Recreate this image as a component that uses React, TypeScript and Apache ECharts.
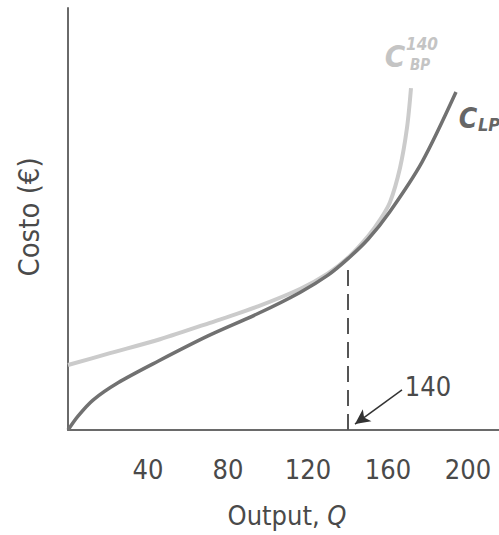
import React, { useEffect, useRef } from "react";
import * as echarts from "echarts";

const xTicks = [40, 80, 120, 160, 200];
const longRun: [number, number][] = [
  [0, 0], [5, 3.3], [12.5, 7.1], [25, 11.2], [45, 16.3], [70, 22.3], [95, 27.6],
  [116, 32.6], [130, 36.7], [140, 40.6], [150, 45.2], [161, 51.8], [177, 63.5], [194, 80.1],
];
const shortRun140: [number, number][] = [
  [0, 15.4], [21, 18.2], [46, 21.5], [71, 25.4], [95, 29.3], [116, 33.4],
  [130, 37.1], [140, 40.8], [150, 45.9], [156, 49.8], [161, 54.0], [166, 62.1], [169.5, 71.6], [171.5, 81],
];
const markedOutput = 140;
const markedTop = 38;

const FONT = "'Liberation Sans Narrow', 'DejaVu Sans Condensed', 'Roboto', sans-serif";

export default function App() {
  const ref = useRef<HTMLDivElement>(null);
  useEffect(() => {
    if (!ref.current) return;
    const chart = echarts.init(ref.current, undefined, { renderer: "svg" });
    chart.setOption({
      animation: false,
      grid: { left: 68, right: 0, top: 8, bottom: 105 },
      xAxis: {
        type: "value",
        min: 0,
        max: 215.5,
        interval: 40,
        axisLine: { show: true, lineStyle: { color: "#6a6a6a", width: 2 } },
        axisTick: { show: false },
        splitLine: { show: false },
        axisLabel: {
          margin: 26,
          fontFamily: FONT,
          fontSize: 27,
          color: "#4a4a4a",
          customValues: xTicks,
        },
      },
      yAxis: {
        type: "value",
        min: 0,
        max: 100,
        axisLine: { show: true, lineStyle: { color: "#6a6a6a", width: 2 } },
        axisTick: { show: false },
        splitLine: { show: false },
        axisLabel: { show: false },
      },
      series: [
        {
          type: "line",
          data: shortRun140,
          smooth: 0.3,
          showSymbol: false,
          lineStyle: { color: "#cbcbcb", width: 4 },
          z: 2,
        },
        {
          type: "line",
          data: longRun,
          smooth: 0.3,
          showSymbol: false,
          lineStyle: { color: "#717171", width: 3.5 },
          z: 3,
        },
        {
          type: "line",
          data: [[markedOutput, 0], [markedOutput, markedTop]],
          showSymbol: false,
          lineStyle: { color: "#555", width: 2, type: [16, 8] },
          z: 1,
          markLine: {
            silent: true,
            symbol: ["none", "arrow"],
            symbolSize: [11, 15],
            label: { show: false },
            lineStyle: { color: "#333", width: 1.5, type: "solid" },
            data: [[{ coord: [167, 9.5] }, { coord: [143.5, 1.4] }]],
          },
        },
      ],
      graphic: [
        {
          type: "text",
          x: 428, y: 386,
          style: { text: "140", font: `27px ${FONT}`, fill: "#4a4a4a", textAlign: "center", textVerticalAlign: "middle" },
        },
        {
          type: "text",
          x: 287, y: 515,
          style: {
            text: "{a|Output, }{b|Q}",
            textAlign: "center",
            textVerticalAlign: "middle",
            rich: {
              a: { fontFamily: FONT, fontSize: 27, fill: "#4a4a4a" },
              b: { fontFamily: FONT, fontSize: 27, fontStyle: "italic", fill: "#4a4a4a" },
            },
          },
        },
        {
          type: "text",
          x: 29, y: 217,
          rotation: Math.PI / 2,
          style: { text: "Costo (€)", font: `29px ${FONT}`, fill: "#4a4a4a", textAlign: "center", textVerticalAlign: "middle" },
        },
        {
          type: "text",
          x: 395, y: 56,
          style: { text: "C", font: `italic bold 31px ${FONT}`, fill: "#c4c4c4", textAlign: "center", textVerticalAlign: "middle" },
        },
        {
          type: "text",
          x: 422, y: 44,
          style: { text: "140", font: `italic bold 17px ${FONT}`, fill: "#c4c4c4", textAlign: "center", textVerticalAlign: "middle" },
        },
        {
          type: "text",
          x: 420, y: 65,
          style: { text: "BP", font: `italic bold 15px ${FONT}`, fill: "#c4c4c4", textAlign: "center", textVerticalAlign: "middle" },
        },
        {
          type: "text",
          x: 468, y: 118,
          style: { text: "C", font: `italic bold 28px ${FONT}`, fill: "#666", textAlign: "center", textVerticalAlign: "middle" },
        },
        {
          type: "text",
          x: 489, y: 124,
          style: { text: "LP", font: `italic bold 18px ${FONT}`, fill: "#666", textAlign: "center", textVerticalAlign: "middle" },
        },
      ],
    });
    return () => chart.dispose();
  }, []);
  return <div ref={ref} style={{ width: 499, height: 535, position: "absolute", left: 0, top: 0 }} />;
}
